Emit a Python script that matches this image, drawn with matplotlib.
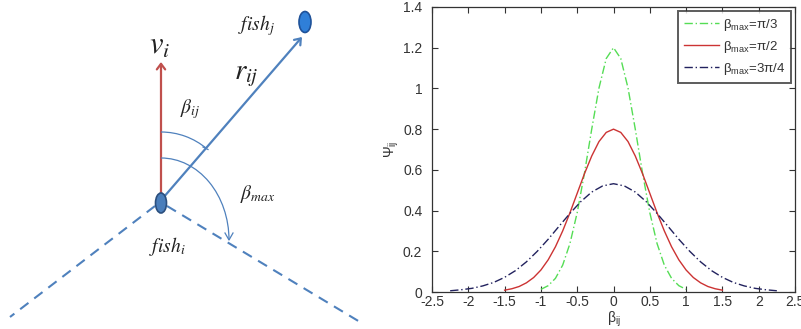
import matplotlib.pyplot as plt
from matplotlib.patches import Ellipse, Arc, FancyArrowPatch

plt.rcParams['font.family'] = ['Liberation Sans', 'DejaVu Sans']

# ============================================================
# DATOS
# ============================================================
beta_pi3 = [-1.0, -0.9, -0.8, -0.7, -0.6, -0.5, -0.4, -0.3, -0.2, -0.1, 0.0,
            0.1, 0.2, 0.3, 0.4, 0.5, 0.6, 0.7, 0.8, 0.9, 1.0]
psi_pi3 = [0.013, 0.031, 0.067, 0.132, 0.238, 0.390, 0.584, 0.800, 1.002, 1.147, 1.200,
           1.147, 1.002, 0.800, 0.584, 0.390, 0.238, 0.132, 0.067, 0.031, 0.013]

beta_pi2 = [-1.5, -1.4, -1.3, -1.2, -1.1, -1.0, -0.9, -0.8, -0.7, -0.6, -0.5, -0.4, -0.3, -0.2, -0.1, 0.0,
            0.1, 0.2, 0.3, 0.4, 0.5, 0.6, 0.7, 0.8, 0.9, 1.0, 1.1, 1.2, 1.3, 1.4, 1.5]
psi_pi2 = [0.009, 0.016, 0.027, 0.045, 0.071, 0.108, 0.158, 0.222, 0.300, 0.389, 0.485, 0.581, 0.668, 0.739, 0.784, 0.800,
           0.784, 0.739, 0.668, 0.581, 0.485, 0.389, 0.300, 0.222, 0.158, 0.108, 0.071, 0.045, 0.027, 0.016, 0.009]

beta_3pi4 = [-2.25, -2.1, -1.95, -1.8, -1.65, -1.5, -1.35, -1.2, -1.05, -0.9, -0.75, -0.6, -0.45, -0.3, -0.15, 0.0,
             0.15, 0.3, 0.45, 0.6, 0.75, 0.9, 1.05, 1.2, 1.35, 1.5, 1.65, 1.8, 1.95, 2.1, 2.25]
psi_3pi4 = [0.006, 0.011, 0.018, 0.030, 0.047, 0.072, 0.105, 0.148, 0.200, 0.259, 0.323, 0.386, 0.444, 0.491, 0.521, 0.532,
            0.521, 0.491, 0.444, 0.386, 0.323, 0.259, 0.200, 0.148, 0.105, 0.072, 0.047, 0.030, 0.018, 0.011, 0.006]

etiquetas = [r'β$_{\mathregular{max}}$=π/3', r'β$_{\mathregular{max}}$=π/2', r'β$_{\mathregular{max}}$=3π/4']
xticks = [-2.5, -2, -1.5, -1, -0.5, 0, 0.5, 1, 1.5, 2, 2.5]
yticks = [0, 0.2, 0.4, 0.6, 0.8, 1, 1.2, 1.4]

AZUL = '#4f81bd'
ROJO = '#c0504d'
TXT = '#222222'

fig = plt.figure(figsize=(8.01, 3.29), dpi=100)
fig.patch.set_facecolor('white')

# ============================================================
# DIAGRAMA (izquierda), coordenadas en pixeles
# ============================================================
ax0 = fig.add_axes([0, 0, 400 / 801, 1])
ax0.set_xlim(0, 400)
ax0.set_ylim(329, 0)
ax0.set_axis_off()

# lineas de campo de vision
ax0.plot([155, 10], [206, 317], ls=(0, (5, 3.5)), color=AZUL, lw=1.5)
ax0.plot([167, 360], [206, 322], ls=(0, (5, 3.5)), color=AZUL, lw=1.5)

# flechas v_i y r_ij
ax0.add_patch(FancyArrowPatch((161, 195), (161, 62), arrowstyle='->,head_length=4,head_width=3',
                              color=ROJO, lw=1.6, shrinkA=0, shrinkB=0))
ax0.add_patch(FancyArrowPatch((163, 198), (302, 37), arrowstyle='->,head_length=4,head_width=3',
                              color=AZUL, lw=1.6, shrinkA=0, shrinkB=0))

# arcos
ax0.add_patch(Arc((161, 203), 142, 142, theta1=-90, theta2=-50, color=AZUL, lw=0.9))
ax0.add_patch(Arc((161, 240), 136, 164, theta1=-90, theta2=0, color=AZUL, lw=0.9))
ax0.plot([203, 208], [147, 149.5], color=AZUL, lw=0.9)
ax0.plot([225, 229, 233], [233, 240, 233], color=AZUL, lw=0.9)

# peces
ax0.add_patch(Ellipse((161, 203), 11, 20, facecolor='#4a7ebb', edgecolor='#2b4f7e', lw=1.2, zorder=5))
ax0.add_patch(Ellipse((305, 22), 12, 21, facecolor='#2f7fd8', edgecolor='#1f5299', lw=1.2, zorder=5))

# textos
ax0.text(160, 46, r'$v_i$', fontsize=22, math_fontfamily='stix', ha='center', va='center', color=TXT)
ax0.text(246, 75, r'$r_{ij}$', fontsize=21, math_fontfamily='stix', ha='center', va='center', color=TXT)
ax0.text(190, 109, r'$\beta_{ij}$', fontsize=14, math_fontfamily='stix', ha='center', va='center', color=TXT)
ax0.text(258, 194, r'$\beta_{max}$', fontsize=14, math_fontfamily='stix', ha='center', va='center', color=TXT)
ax0.text(256, 26, r'$fish_j$', fontsize=14, math_fontfamily='stix', ha='center', va='center', color=TXT)
ax0.text(167, 246, r'$fish_i$', fontsize=14, math_fontfamily='stix', ha='center', va='center', color=TXT)

# ============================================================
# GRAFICO (derecha)
# ============================================================
ax = fig.add_axes([432 / 801, 37 / 329, 363 / 801, 285 / 329])
ax.plot(beta_pi3, psi_pi3, ls=(0, (6, 2, 1, 2)), color='#55dd55', lw=1.0, label=etiquetas[0])
ax.plot(beta_pi2, psi_pi2, ls='-', color='#cc3333', lw=1.0, label=etiquetas[1])
ax.plot(beta_3pi4, psi_3pi4, ls=(0, (6, 2, 1, 2)), color='#22225e', lw=1.0, label=etiquetas[2])

ax.set_xlim(-2.5, 2.5)
ax.set_ylim(0, 1.4)
ax.set_xticks(xticks)
ax.set_xticklabels(['-2.5', '-2', '-1.5', '-1', '-0.5', '0', '0.5', '1', '1.5', '2', '2.5'])
ax.set_yticks(yticks)
ax.set_yticklabels(['0', '0.2', '0.4', '0.6', '0.8', '1', '1.2', '1.4'])
ax.tick_params(direction='in', top=True, right=True, length=4, width=0.8, labelsize=10,
               colors='#333333')
ax.tick_params(axis='x', pad=2)
ax.tick_params(axis='y', pad=7)
for s in ax.spines.values():
    s.set_color('#333333')
    s.set_linewidth(0.9)

ax.set_xlabel(r'β$_{\mathregular{ij}}$', fontsize=10, color='#333333', labelpad=1)
ax.set_ylabel(r'Ψ$_{\mathregular{ij}}$', fontsize=10, color='#333333')
ax.yaxis.set_label_coords(-0.085, 0.5)

leg = ax.legend(loc='upper right', fontsize=9.5, frameon=True, fancybox=False, handlelength=2.6,
                labelspacing=0.45, borderaxespad=0.3, handletextpad=0.3, borderpad=0.45)
leg.get_frame().set_edgecolor('#333333')
leg.get_frame().set_linewidth(1.4)
for t in leg.get_texts():
    t.set_color('#333333')

fig.savefig('out.png', dpi=100, facecolor='white')
